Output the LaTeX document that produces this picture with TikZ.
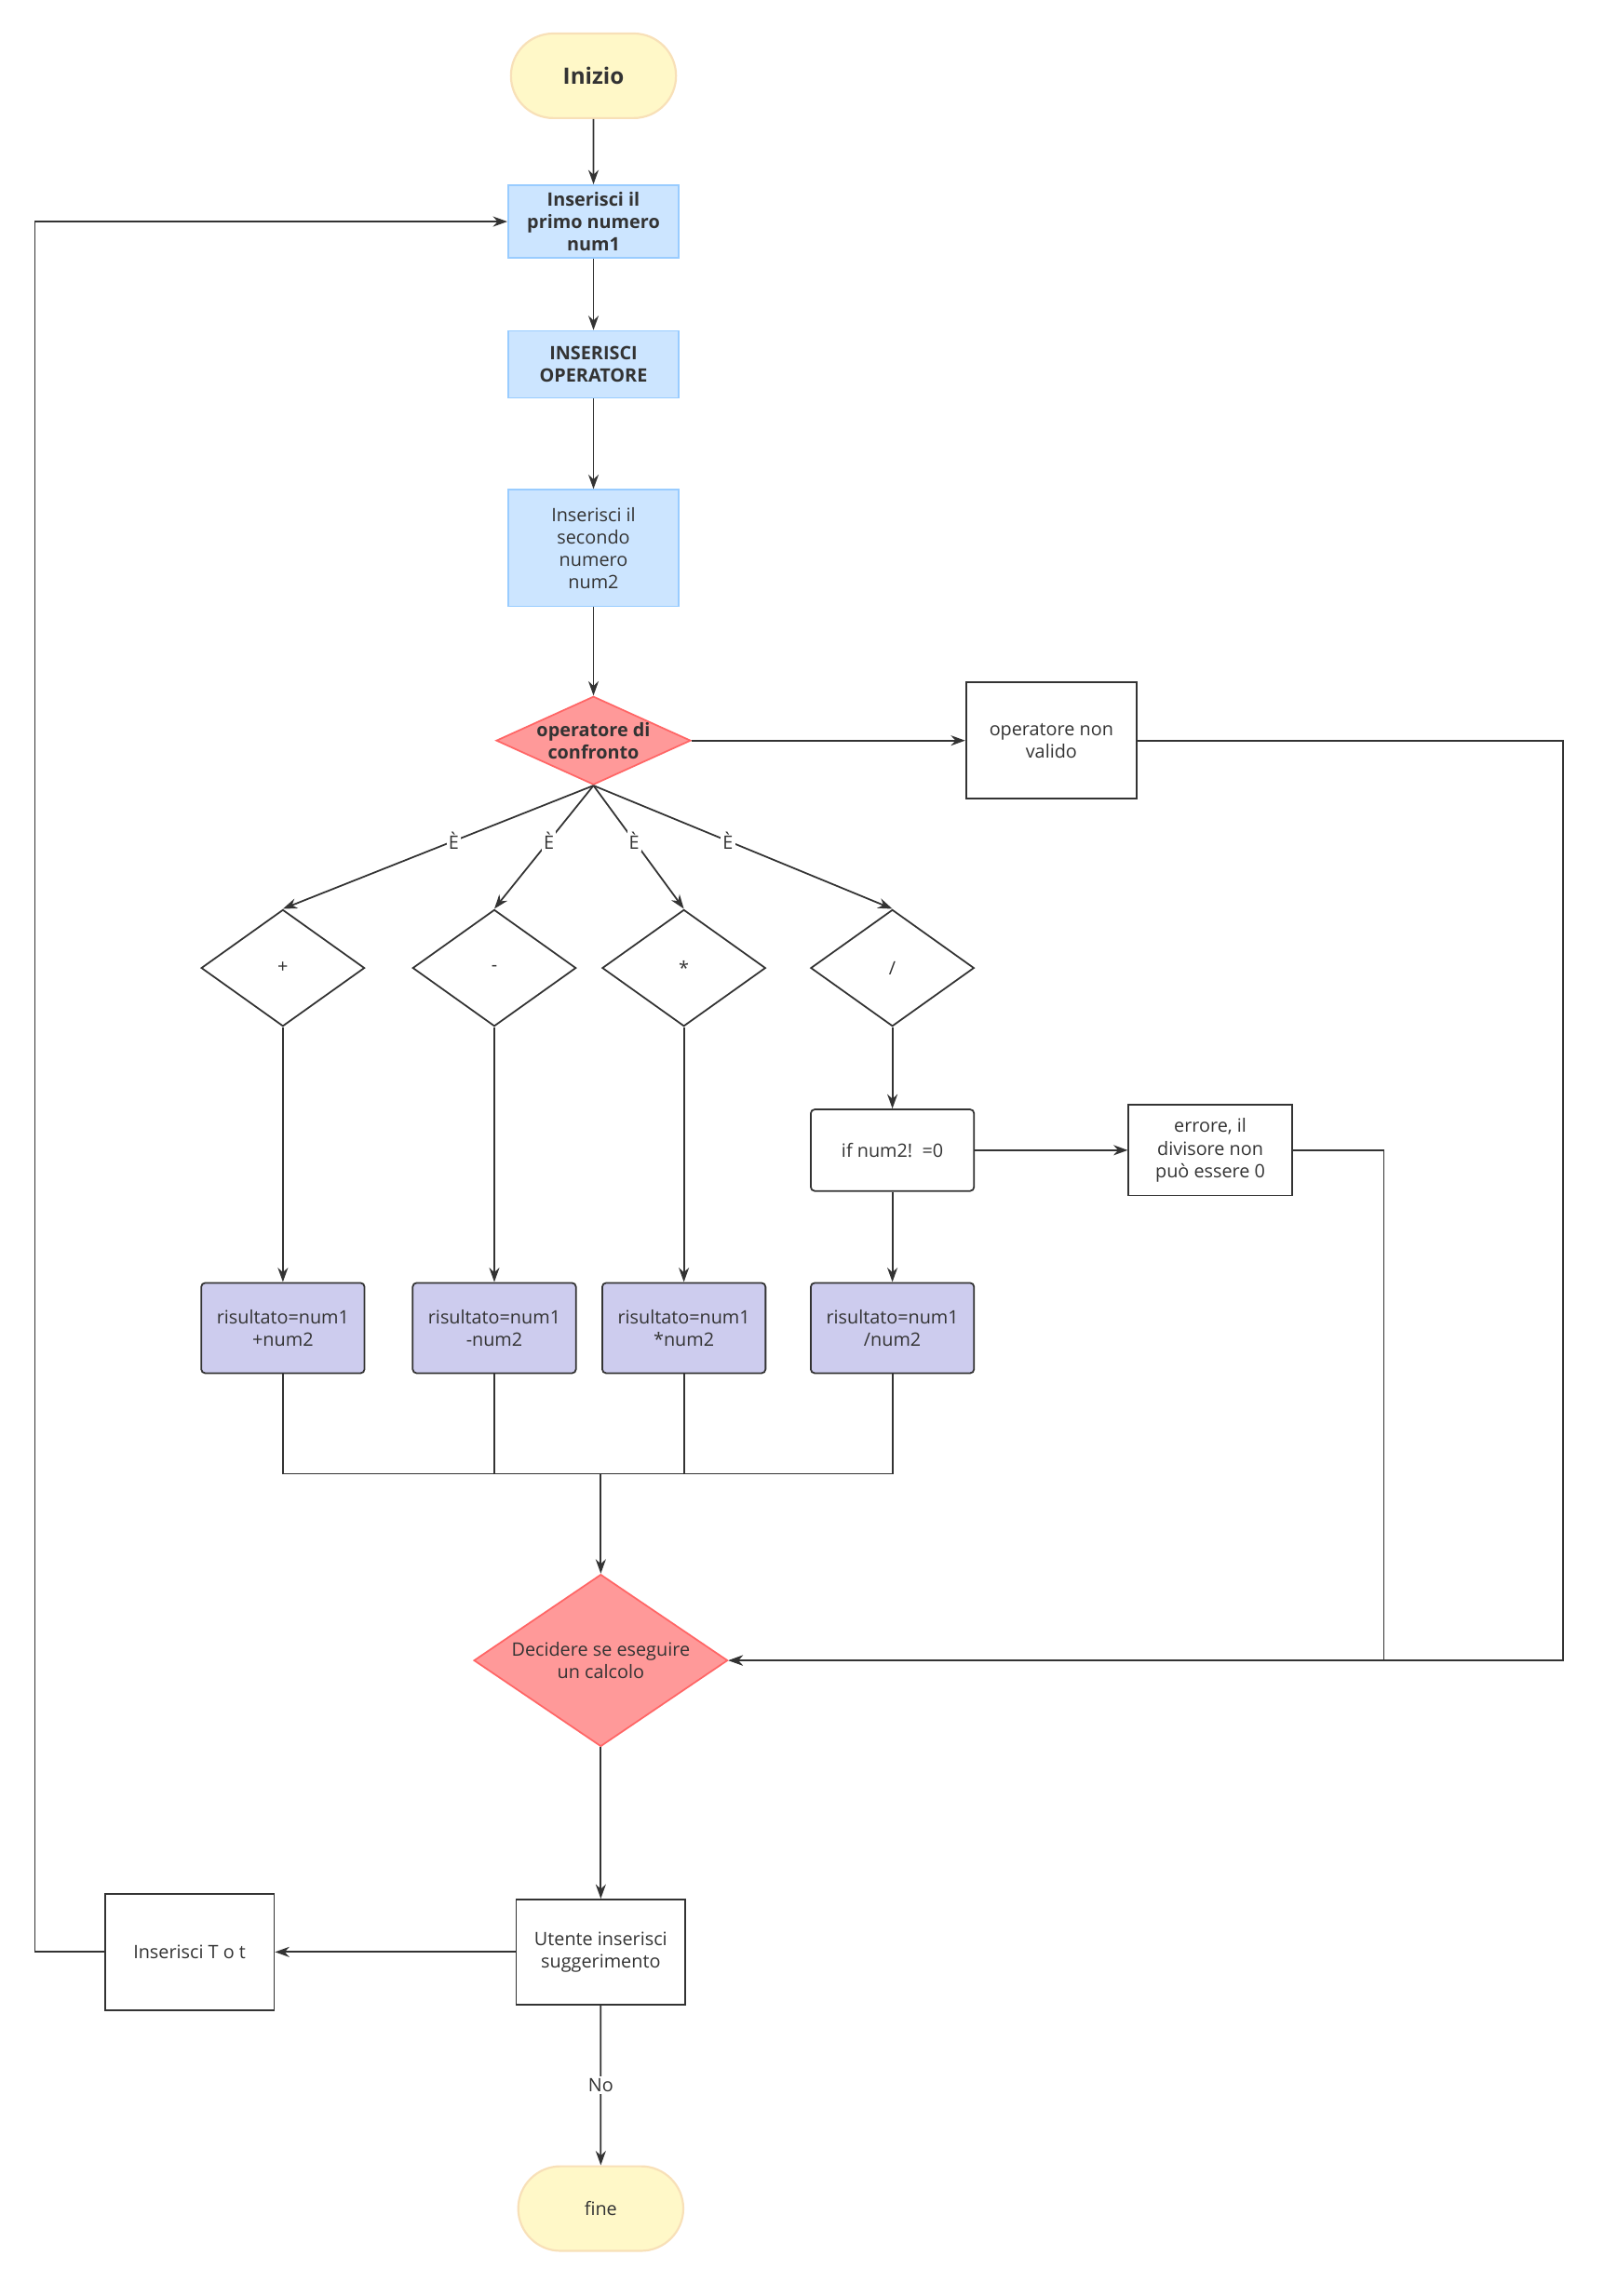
\documentclass[tikz,border=0pt]{standalone}
\usepackage{fontspec}
\setmainfont{Open Sans}
\usetikzlibrary{shapes.geometric,arrows.meta}
\definecolor{yfill}{HTML}{FFF8C8}\definecolor{ydraw}{HTML}{F8E0B8}
\definecolor{bfill}{HTML}{CCE5FF}\definecolor{bdraw}{HTML}{99CCFF}
\definecolor{rfill}{HTML}{FF9999}\definecolor{rdraw}{HTML}{FF6666}
\definecolor{pfill}{HTML}{CDCCEE}\definecolor{ln}{HTML}{333333}
\begin{document}
\begin{tikzpicture}[x=0.025cm,y=-0.025cm,
 every node/.style={font=\fontsize{9}{11}\selectfont,align=center,text=ln,inner sep=1pt},
 term/.style={rounded rectangle,draw=ydraw,fill=yfill,line width=1pt,minimum width=2.9cm,minimum height=1.45cm},
 blue/.style={rectangle,draw=bdraw,fill=bfill,line width=0.8pt,minimum width=2.925cm},
 wbox/.style={rectangle,draw=ln,fill=white,line width=0.8pt,minimum width=2.925cm},
 res/.style={rectangle,rounded corners=2pt,draw=ln,fill=pfill,line width=0.8pt,minimum width=2.8cm,minimum height=1.55cm},
 dia/.style={diamond,draw=ln,fill=white,line width=0.8pt,aspect=1.4,minimum width=2.8cm,minimum height=2cm,inner sep=0pt},
 rdia/.style={diamond,draw=rdraw,fill=rfill,line width=0.8pt,inner sep=0pt},
 arr/.style={draw=ln,line width=0.8pt,-{Stealth[length=7pt,width=5pt]}},
 ln/.style={draw=ln,line width=0.8pt},
 lab/.style={fill=white,inner sep=1pt}]
\useasboundingbox (0,0) rectangle (1100,1575);
\usetikzlibrary{shapes.misc}
\node[term] (start) at (407,52) {\bfseries\fontsize{11}{13}\selectfont Inizio};
\node[blue,minimum height=1.25cm] (b1) at (407,152) {\bfseries Inserisci il\\\bfseries primo numero\\\bfseries num1};
\node[blue,minimum height=1.15cm] (b2) at (407,250) {\bfseries INSERISCI\\\bfseries OPERATORE};
\node[blue,minimum height=2cm] (b3) at (407,376) {Inserisci il\\secondo\\numero\\num2};
\node[rdia,minimum width=3.25cm,minimum height=1.45cm,aspect=2.2] (d1) at (407,508) {\bfseries operatore di\\\bfseries confronto};
\node[wbox,minimum height=2cm] (inv) at (721,508) {operatore non\\valido};
\node[dia] (p) at (194,664) {+};
\node[dia] (m) at (339,664) {-};
\node[dia] (t) at (469,664) {*};
\node[dia] (s) at (612,664) {/};
\node[wbox,rounded corners=2pt,minimum width=2.8cm,minimum height=1.4cm] (if) at (612,789) {if num2!\ \ =0};
\node[wbox,minimum width=2.8cm,minimum height=1.55cm] (err) at (830,789) {errore, il\\divisore non\\può essere 0};
\node[res] (rp) at (194,911) {risultato=num1\\+num2};
\node[res] (rm) at (339,911) {risultato=num1\\-num2};
\node[res] (rt) at (469,911) {risultato=num1\\*num2};
\node[res] (rs) at (612,911) {risultato=num1\\/num2};
\coordinate (mg) at (412,1011);
\node[rdia,minimum width=4.35cm,minimum height=2.95cm,aspect=1.47] (d2) at (412,1139) {Decidere se eseguire\\un calcolo};
\node[wbox,minimum width=2.9cm,minimum height=1.8cm] (ut) at (412,1339) {Utente inserisci\\suggerimento};
\node[wbox,minimum width=2.9cm,minimum height=2cm] (tot) at (130,1339) {Inserisci T o t};
\node[term] (fine) at (412,1515) {fine};

\draw[arr] (start) -- (b1);
\draw[arr] (b1) -- (b2);
\draw[arr] (b2) -- (b3);
\draw[arr] (b3) -- (d1);
\draw[arr] (d1) -- (inv);
\foreach \n in {p,m,t,s}{\draw[arr] (d1.south) -- node[lab,pos=0.45]{È} (\n.north);}
\draw[arr] (p) -- (rp);
\draw[arr] (m) -- (rm);
\draw[arr] (t) -- (rt);
\draw[arr] (s) -- (if);
\draw[arr] (if) -- (rs);
\draw[arr] (if) -- (err);
\draw[ln] (rp.south) |- (rs.south |- mg) -- (rs.south);
\draw[ln] (rm.south) -- (rm.south |- mg);
\draw[ln] (rt.south) -- (rt.south |- mg);
\draw[arr] (mg) -- (d2.north);
\draw[arr] (err.east) -- (949,789) -- (949,1139) -- (d2.east);
\draw[arr] (inv.east) -- (1072,508) -- (1072,1139) -- (d2.east);
\draw[arr] (d2.south) -- (ut);
\draw[arr] (ut) -- (tot);
\draw[arr] (tot.west) -- (24,1339) -- (24,152) -- (b1.west);
\draw[arr] (ut) -- node[lab]{No} (fine);
\end{tikzpicture}
\end{document}
